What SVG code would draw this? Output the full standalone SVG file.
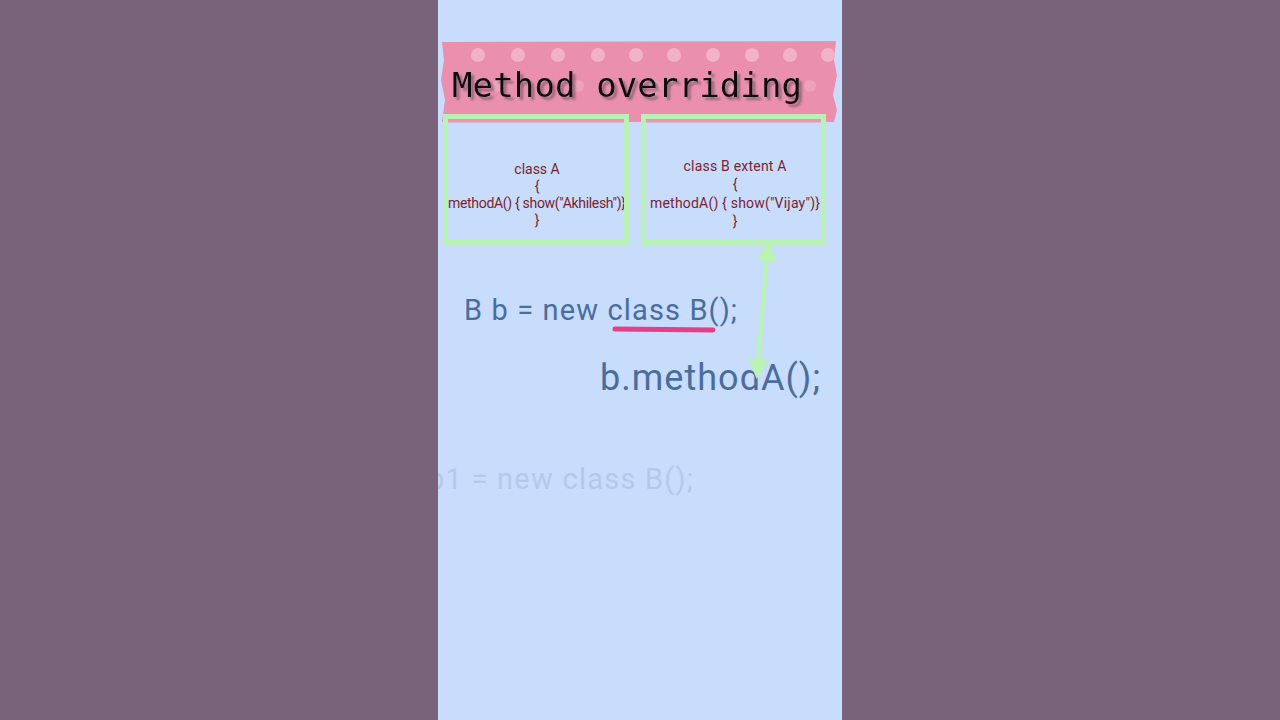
<svg xmlns="http://www.w3.org/2000/svg" width="1280" height="720" viewBox="0 0 1280 720">
<defs>
<style>
.code{font-family:Roboto,"Liberation Sans",sans-serif;fill:#7a1f2e;font-size:14px;text-anchor:middle}
.main{font-family:Roboto,"Liberation Sans",sans-serif;fill:#4a6e9c}
.box{fill:none;stroke:#b9f2b4;stroke-width:5}
.dot{fill:#f2b3c8}
</style>
<filter id="sh" x="-5%" y="-20%" width="110%" height="150%">
<feDropShadow dx="3" dy="3" stdDeviation="0.8" flood-color="#7a5a68" flood-opacity="0.75"/>
</filter>
<marker id="ah" viewBox="0 0 10 10" refX="8" refY="5" markerWidth="5" markerHeight="5" orient="auto-start-reverse">
<path d="M0,0 L10,5 L0,10 z" fill="#b9f5b0"/>
</marker>
<clipPath id="panel"><rect x="438" y="0" width="404" height="720"/></clipPath>
<clipPath id="boxA"><rect x="445" y="190" width="179" height="30"/></clipPath>
</defs>
<rect width="1280" height="720" fill="#79637a"/>
<rect x="438" y="0" width="404" height="720" fill="#c8dcfc"/>
<g id="tape">
<path d="M442,42 L836,41 L834,60 L837,75 L833,95 L837,110 L834,122 L442,122 L445,100 L441,80 L444,60 Z" fill="#ea8fae"/>
<g class="dot">
<circle cx="478" cy="55" r="7"/><circle cx="518" cy="55" r="7"/><circle cx="558" cy="55" r="7"/><circle cx="598" cy="55" r="7"/><circle cx="636" cy="55" r="7"/><circle cx="674" cy="55" r="7"/><circle cx="713" cy="55" r="7"/><circle cx="752" cy="55" r="7"/><circle cx="790" cy="55" r="7"/><circle cx="828" cy="55" r="7"/>
<circle cx="498" cy="86" r="6" opacity="0.5"/><circle cx="578" cy="86" r="6" opacity="0.5"/><circle cx="655" cy="86" r="6" opacity="0.5"/><circle cx="732" cy="86" r="6" opacity="0.5"/><circle cx="810" cy="86" r="6" opacity="0.5"/>
</g>
<text x="452" y="97" font-family="'DejaVu Sans Mono','Liberation Mono',monospace" font-size="34" fill="#111" filter="url(#sh)" textLength="350" lengthAdjust="spacing">Method overriding</text>
</g>
<g id="classA">
<rect class="box" x="445.5" y="116.5" width="181" height="126"/>
<line x1="448" y1="121" x2="624" y2="121" stroke="#e69ab0" stroke-width="3"/>
<text class="code" x="537" y="174">class A</text>
<text class="code" x="537" y="191">{</text>
<g clip-path="url(#boxA)"><text class="code" style="text-anchor:start" x="448" y="207.5" textLength="178" lengthAdjust="spacing">methodA() { show("Akhilesh")}</text></g>
<text class="code" x="537" y="225">}</text>
</g>
<g id="classB">
<rect class="box" x="643.5" y="116.5" width="180" height="126"/>
<line x1="646" y1="121" x2="821" y2="121" stroke="#e69ab0" stroke-width="3"/>
<text class="code" x="735" y="171" textLength="103" lengthAdjust="spacing">class B extent A</text>
<text class="code" x="735" y="189">{</text>
<text class="code" x="735" y="208" textLength="170" lengthAdjust="spacing">methodA() { show("Vijay")}</text>
<text class="code" x="735" y="226">}</text>
</g>
<g id="code">
<text class="main" x="464" y="320" font-size="29" textLength="273" lengthAdjust="spacing">B b = new class B();</text>
<line x1="615" y1="329" x2="713" y2="330" stroke="#e2408a" stroke-width="5" stroke-linecap="round"/>
<text class="main" x="600" y="390" font-size="36" textLength="220" lengthAdjust="spacing">b.methodA();</text>
<g clip-path="url(#panel)"><text x="428" y="489" font-size="29" font-family="Roboto,'Liberation Sans',sans-serif" fill="#b6c8ea" textLength="265" lengthAdjust="spacing">b1 = new class B();</text></g>
</g>
<g id="connectors">
<line x1="768" y1="245" x2="757" y2="375" stroke="#b9f5b0" stroke-width="4" marker-start="url(#ah)" marker-end="url(#ah)"/>
</g>
</svg>
